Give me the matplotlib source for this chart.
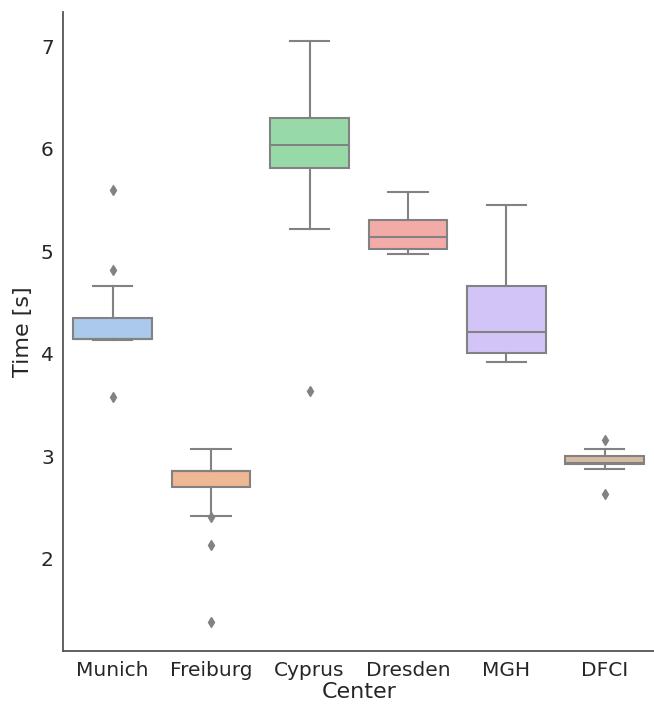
import colorsys
import matplotlib
matplotlib.use("Agg")
import matplotlib.pyplot as plt

# box stats
centers = ["Munich", "Freiburg", "Cyprus", "Dresden", "MGH", "DFCI"]
whislo = [4.13, 2.42, 5.22, 4.97, 3.92, 2.88]
q1 = [4.14, 2.70, 5.81, 5.02, 4.01, 2.92]
med = [4.14, 2.86, 6.04, 5.14, 4.21, 2.93]
q3 = [4.35, 2.86, 6.30, 5.30, 4.66, 3.00]
whishi = [4.66, 3.07, 7.05, 5.58, 5.45, 3.07]
fliers = [[5.60, 4.82, 3.58], [2.41, 2.13, 1.38], [3.64], [], [], [3.16, 2.63]]

pastel = ["#a1c9f4", "#ffb482", "#8de5a1", "#ff9f9b", "#d0bbff", "#debb9b"]


def desat(c, prop=0.75):
    r, g, b = matplotlib.colors.to_rgb(c)
    h, l, s = colorsys.rgb_to_hls(r, g, b)
    return colorsys.hls_to_rgb(h, l, s * prop)


colors = [desat(c) for c in pastel]
gray = "#828282"

stats = []
for i in range(len(centers)):
    stats.append({"whislo": whislo[i], "q1": q1[i], "med": med[i], "q3": q3[i],
                  "whishi": whishi[i], "fliers": fliers[i], "label": centers[i]})

fig = plt.figure(figsize=(6.54, 7.05), dpi=100)
ax = fig.add_axes([0.097, 0.076, 0.903, 0.907])

bp = ax.bxp(stats, positions=range(len(centers)), widths=0.8, patch_artist=True,
            boxprops=dict(edgecolor=gray, linewidth=1.5),
            medianprops=dict(color=gray, linewidth=1.5),
            whiskerprops=dict(color=gray, linewidth=1.5),
            capprops=dict(color=gray, linewidth=1.5),
            flierprops=dict(marker="d", markerfacecolor=gray, markeredgecolor=gray,
                            markersize=5))
for patch, c in zip(bp["boxes"], colors):
    patch.set_facecolor(c)

ax.set_xlim(-0.5, len(centers) - 0.5)
ax.set_xticks(range(len(centers)))
ax.set_xticklabels(centers)
ax.set_yticks([2, 3, 4, 5, 6, 7])
ax.tick_params(labelsize=14.5, length=0, colors="#262626", pad=7)
ax.set_xlabel("Center", fontsize=16, color="#262626", labelpad=1)
ax.set_ylabel("Time [s]", fontsize=16, color="#262626", labelpad=6)

for s in ["top", "right"]:
    ax.spines[s].set_visible(False)
for s in ["left", "bottom"]:
    ax.spines[s].set_color("#555555")
    ax.spines[s].set_linewidth(1.3)

fig.savefig("out.png", dpi=100)
